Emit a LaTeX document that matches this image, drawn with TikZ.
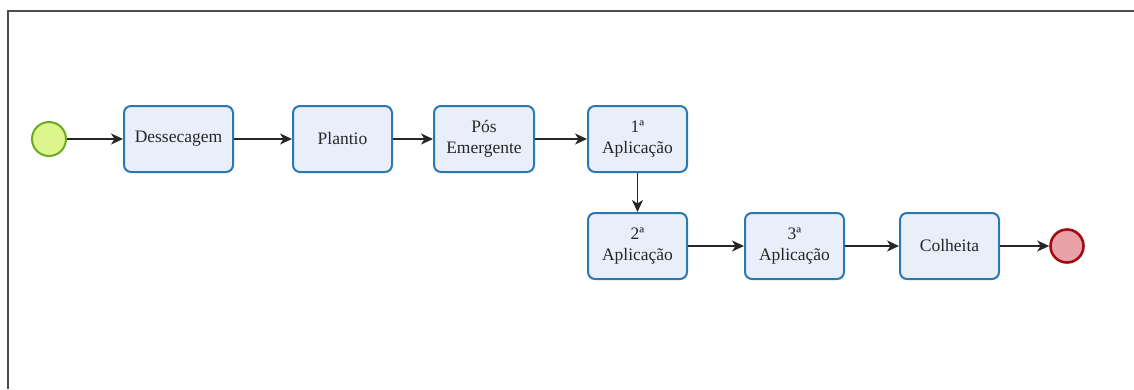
\documentclass[tikz,border=0pt]{standalone}
\usepackage{fontspec}
\setmainfont{Liberation Serif}
\usetikzlibrary{arrows.meta}
\definecolor{boxfill}{HTML}{E9EEFB}
\definecolor{boxline}{HTML}{2A78AE}
\definecolor{startfill}{HTML}{DCF58C}
\definecolor{startline}{HTML}{6CAA22}
\definecolor{endfill}{HTML}{E9A2A8}
\definecolor{endline}{HTML}{A00E12}
\tikzset{
  task/.style={draw=boxline, fill=boxfill, line width=2pt, rounded corners=7pt,
    minimum width=99pt, minimum height=66pt, align=center, inner sep=2pt,
    text=black!85, font=\fontsize{17.5pt}{21pt}\selectfont},
  startev/.style={circle, draw=startline, fill=startfill, line width=2pt, minimum size=34pt, inner sep=0pt},
  endev/.style={circle, draw=endline, fill=endfill, line width=2.6pt, minimum size=33pt, inner sep=0pt},
  flow/.style={-{Stealth[length=12pt,width=11pt,inset=3.5pt]}, line width=1.5pt, draw=black!85},
  frame/.style={draw=black!70, line width=1.6pt}
}
\begin{document}
\begin{tikzpicture}[x=1pt,y=-1pt]
\useasboundingbox (0,0) rectangle (1134,389);
\coordinate (ftl) at (8,11);
\coordinate (ftr) at (1134,11);
\coordinate (fbl) at (8,389);
\draw[frame] (ftr) -- (ftl) -- (fbl);
\node[startev] (start) at (49,139) {};
\node[task, minimum width=109pt] (dess) at (178.5,139) {Dessecagem};
\node[task] (plant) at (342.5,139) {Plantio};
\node[task, minimum width=100pt] (pos) at (484,139) {Pós\\Emergente};
\node[task] (a1) at (637.5,139) {1ª\\Aplicação};
\node[task] (a2) at (637.5,246) {2ª\\Aplicação};
\node[task] (a3) at (794.5,246) {3ª\\Aplicação};
\node[task] (colh) at (949.5,246) {Colheita};
\node[endev] (fim) at (1067,246) {};
\draw[flow] (start) -- (dess);
\draw[flow] (dess) -- (plant);
\draw[flow] (plant) -- (pos);
\draw[flow] (pos) -- (a1);
\draw[flow] (a1) -- (a2);
\draw[flow] (a2) -- (a3);
\draw[flow] (a3) -- (colh);
\draw[flow] (colh) -- (fim);
\end{tikzpicture}
\end{document}
